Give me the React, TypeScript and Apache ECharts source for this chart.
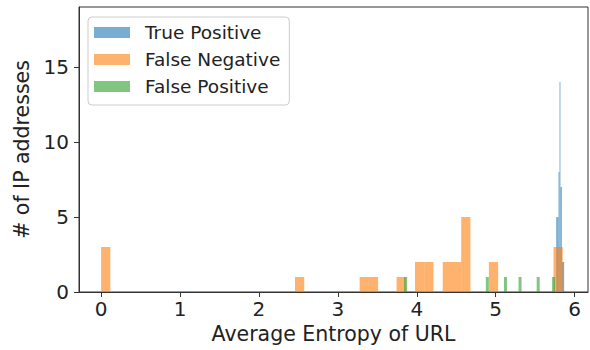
import React, { useEffect, useRef } from "react";
import * as echarts from "echarts";

// ---- data ----
const seriesNames = ["True Positive", "False Negative", "False Positive"];
const seriesColors = ["#1f77b4", "#ff7f0e", "#2ca02c"];
const legendColors = ["#79add2", "#ffb26e", "#80c680"];

// True Positive: histogram bin edges and counts
const tpEdges = [5.767, 5.796, 5.809, 5.821, 5.839, 5.868];
const tpCounts = [5, 8, 14, 7, 2];

// False Negative: bin left edges, common bin width, counts
const fnLefts = [0, 2.457, 3.276, 3.393, 3.744, 3.978, 4.095, 4.329, 4.446, 4.563, 4.914, 5.733];
const fnWidth = 0.117;
const fnCounts = [3, 1, 1, 1, 1, 2, 2, 2, 2, 5, 2, 3];

// False Positive
const fpLefts = [3.84, 4.875, 5.105, 5.29, 5.52, 5.715];
const fpWidth = 0.038;
const fpCounts = [1, 1, 1, 1, 1, 1];

const xTicks = [0, 1, 2, 3, 4, 5, 6];
const yTicks = [0, 5, 10, 15];

const FONT = "DejaVu Sans";

function renderBin(params: any, api: any) {
  const x0 = api.value(0);
  const x1 = api.value(1);
  const c = api.value(2);
  const p0 = api.coord([x0, 0]);
  const p1 = api.coord([x1, c]);
  return {
    type: "rect",
    shape: { x: p0[0], y: p1[1], width: Math.max(p1[0] - p0[0], 0.8), height: p0[1] - p1[1] },
    style: { fill: api.visual("color"), opacity: 0.6 },
  };
}

export default function App() {
  const ref = useRef<HTMLDivElement>(null);
  useEffect(() => {
    if (!ref.current) return;
    const chart = echarts.init(ref.current, undefined, { renderer: "svg" });
    const tpData = tpCounts.map((c, i) => [tpEdges[i], tpEdges[i + 1], c]);
    const fnData = fnCounts.map((c, i) => [fnLefts[i], fnLefts[i] + fnWidth, c]);
    const fpData = fpCounts.map((c, i) => [fpLefts[i], fpLefts[i] + fpWidth, c]);
    const datas = [tpData, fnData, fpData];
    chart.setOption({
      animation: false,
      grid: {
        left: 79,
        right: 2,
        top: 7,
        bottom: 58,
        show: true,
        borderColor: "#333",
        borderWidth: 1,
        backgroundColor: "transparent",
      },
      legend: {
        orient: "vertical",
        left: 88,
        top: 17,
        padding: [5, 9, 8, 6],
        itemWidth: 36,
        itemHeight: 11,
        itemGap: 6,
        icon: "rect",
        backgroundColor: "#fff",
        borderColor: "#cccccc",
        borderWidth: 1,
        borderRadius: 4,
        textStyle: { fontFamily: FONT, fontSize: 18.5, color: "#222", padding: [0, 0, 0, 10], lineHeight: 21 },
        data: seriesNames.map((n, i) => ({ name: n, itemStyle: { color: legendColors[i], opacity: 1 } })),
      },
      xAxis: {
        type: "value",
        min: -0.28,
        max: 6.17,
        name: "Average Entropy of URL",
        nameLocation: "middle",
        nameGap: 30,
        nameTextStyle: { fontFamily: FONT, fontSize: 20.5, color: "#222" },
        axisLine: { show: true, onZero: false, lineStyle: { color: "#333", width: 1 } },
        axisTick: { show: true, length: 5, customValues: xTicks, lineStyle: { color: "#333" } },
        axisLabel: { customValues: xTicks, fontFamily: FONT, fontSize: 20, color: "#222", margin: 7 },
        splitLine: { show: false },
      },
      yAxis: {
        type: "value",
        min: 0,
        max: 19,
        name: "# of IP addresses",
        nameLocation: "middle",
        nameGap: 36,
        nameTextStyle: { fontFamily: FONT, fontSize: 20.5, color: "#222" },
        axisLine: { show: true, onZero: false, lineStyle: { color: "#333", width: 1 } },
        axisTick: { show: true, length: 5, customValues: yTicks, lineStyle: { color: "#333" } },
        axisLabel: { customValues: yTicks, fontFamily: FONT, fontSize: 20, color: "#222", margin: 10 },
        splitLine: { show: false },
      },
      series: seriesNames.map((n, i) => ({
        name: n,
        type: "custom",
        renderItem: renderBin,
        itemStyle: { color: seriesColors[i] },
        encode: { x: [0, 1], y: 2 },
        data: datas[i],
      })),
    });
    return () => chart.dispose();
  }, []);
  return <div ref={ref} style={{ width: 590, height: 350, position: "absolute", left: 0, top: 0 }} />;
}
